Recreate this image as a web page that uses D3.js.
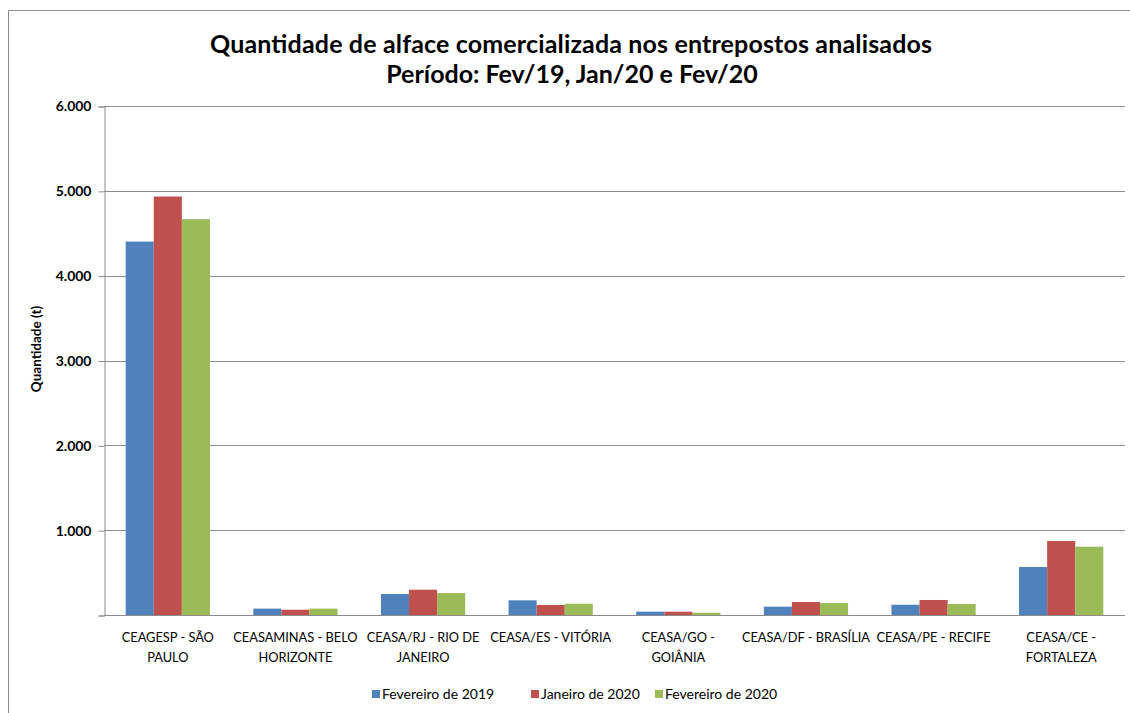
<!DOCTYPE html>
<html>
<head>
<meta charset="utf-8">
<script src="https://cdn.jsdelivr.net/npm/d3@7"></script>
<style>
  body { margin: 0; background: #fff; }
  svg { font-family: Lato, "Open Sans", sans-serif; }
</style>
</head>
<body>
<div id="chart"></div>
<script>
// categories (line breaks as in the original axis)
var categories = [
    "CEAGESP - SÃO\nPAULO",
    "CEASAMINAS - BELO\nHORIZONTE",
    "CEASA/RJ - RIO DE\nJANEIRO",
    "CEASA/ES - VITÓRIA",
    "CEASA/GO -\nGOIÂNIA",
    "CEASA/DF - BRASÍLIA",
    "CEASA/PE - RECIFE",
    "CEASA/CE -\nFORTALEZA"
];
var seriesNames = ["Fevereiro de 2019", "Janeiro de 2020", "Fevereiro de 2020"];
var fev19 = [4402, 75, 248, 173, 39, 98, 121, 566];
var jan20 = [4933, 62, 298, 118, 39, 153, 177, 872];
var fev20 = [4666, 75, 259, 133, 27, 141, 130, 805];
var yTicks = [0, 1000, 2000, 3000, 4000, 5000, 6000];
var colors = ["#4F81BD", "#C0504D", "#9BBB59"];

var width = 1130,
    height = 713;
var margin = {left: 104, right: 5, top: 106, bottom: 98};

var svg = d3.select("#chart").append("svg")
    .attr("width", width)
    .attr("height", height);

// outer chart border (right / bottom cut off in the original)
svg.append("path")
    .attr("d", "M8.5," + height + "V10.5H" + width)
    .attr("fill", "none")
    .attr("stroke", "#8c8c8c")
    .attr("stroke-width", 1);

var title = svg.append("text")
    .attr("x", 571)
    .attr("text-anchor", "middle")
    .style("font-size", "25px")
    .style("font-weight", "bold")
    .style("fill", "#000");
title.append("tspan").attr("x", 571).attr("y", 53)
    .attr("textLength", 722)
    .attr("lengthAdjust", "spacing")
    .text("Quantidade de alface comercializada nos entrepostos analisados");
title.append("tspan").attr("x", 572).attr("y", 83)
    .text("Período: Fev/19, Jan/20 e Fev/20");

var x0 = d3.scaleBand()
    .domain(d3.range(categories.length))
    .range([margin.left, width - margin.right])
    .paddingInner(0.34)
    .paddingOuter(0.17);

var x1 = d3.scaleBand()
    .domain(d3.range(seriesNames.length))
    .range([0, x0.bandwidth()]);

var y = d3.scaleLinear()
    .domain([0, 6000])
    .range([height - margin.bottom, margin.top]);

// grid
svg.append("g")
    .selectAll("line")
    .data(yTicks.slice(1))
    .enter().append("line")
    .attr("x1", margin.left)
    .attr("x2", width - margin.right)
    .attr("y1", function(d) { return Math.round(y(d)) + 0.5; })
    .attr("y2", function(d) { return Math.round(y(d)) + 0.5; })
    .style("stroke", "#8c8c8c");

// y axis
var yAxis = svg.append("g")
    .attr("transform", "translate(" + (margin.left + 0.5) + ",0.5)")
    .call(d3.axisLeft(y)
        .tickValues(yTicks)
        .tickSizeOuter(0)
        .tickSize(6)
        .tickPadding(7)
        .tickFormat(function(d) { return d === 0 ? "" : d3.format(",")(d).replace(/,/g, "."); }));
yAxis.select(".domain").style("stroke", "#8c8c8c");
yAxis.selectAll(".tick line").style("stroke", "#8c8c8c");
yAxis.selectAll(".tick text")
    .style("font-size", "14px")
    .style("font-weight", "bold")
    .style("fill", "#000")
    .style("font-family", "Lato, sans-serif");

svg.append("text")
    .attr("transform", "translate(41,349) rotate(-90)")
    .attr("text-anchor", "middle")
    .style("font-size", "13.5px")
    .style("font-weight", "bold")
    .text("Quantidade (t)");

// bars
var allSeries = [fev19, jan20, fev20];
var groups = svg.append("g")
    .selectAll("g")
    .data(categories)
    .enter().append("g")
    .attr("transform", function(d, i) { return "translate(" + x0(i) + ",0)"; });

groups.selectAll("rect")
    .data(function(d, i) {
        return allSeries.map(function(s, k) { return {k: k, v: s[i]}; });
    })
    .enter().append("rect")
    .attr("x", function(d) { return x1(d.k); })
    .attr("width", x1.bandwidth())
    .attr("y", function(d) { return y(d.v); })
    .attr("height", function(d) { return y(0) - y(d.v); })
    .style("fill", function(d) { return colors[d.k]; });

// x axis line
svg.append("line")
    .attr("x1", margin.left)
    .attr("x2", width - margin.right)
    .attr("y1", Math.round(y(0)) + 0.5)
    .attr("y2", Math.round(y(0)) + 0.5)
    .style("stroke", "#8c8c8c");

// category labels
var labels = svg.append("g")
    .selectAll("text")
    .data(categories)
    .enter().append("text")
    .attr("text-anchor", "middle")
    .style("font-size", "12.8px")
    .style("fill", "#000");

labels.each(function(d, i) {
    var t = d3.select(this);
    var cx = x0(i) + x0.bandwidth() / 2;
    d.split("\n").forEach(function(line, j) {
        t.append("tspan")
            .attr("x", cx)
            .attr("y", 642 + j * 20)
            .text(line);
    });
});

// legend
var legendX = [372, 531, 655];
var legend = svg.append("g")
    .selectAll("g")
    .data(seriesNames)
    .enter().append("g")
    .attr("transform", function(d, i) { return "translate(" + legendX[i] + ",690)"; });

legend.append("rect")
    .attr("width", 8)
    .attr("height", 8)
    .style("fill", function(d, i) { return colors[i]; });

legend.append("text")
    .attr("x", 10)
    .attr("y", 9)
    .style("font-size", "14px")
    .text(function(d) { return d; });
</script>
</body>
</html>
